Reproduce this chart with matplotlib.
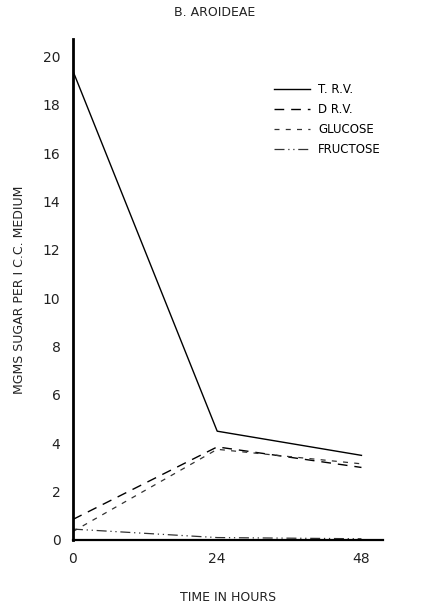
import matplotlib.pyplot as plt

# Sampling times (hours)
hours = [0, 24, 48]

# Sugar content (mgms per 1 c.c. medium)
trv = [19.4, 4.5, 3.5]
drv = [0.85, 3.85, 3.0]
glucose = [0.35, 3.75, 3.15]
fructose = [0.45, 0.1, 0.05]

fig = plt.figure(figsize=(4.29, 6.03), dpi=100)
ax = fig.add_axes([0.170, 0.1045, 0.723, 0.830])

ax.plot(hours, trv, color='black', lw=1.0, ls='-', label='T. R.V.')
ax.plot(hours, drv, color='black', lw=1.0, ls=(0, (7, 5)), label='D R.V.')
ax.plot(hours, glucose, color='#333333', lw=0.9, ls=(0, (4, 5)), label='GLUCOSE')
ax.plot(hours, fructose, color='#333333', lw=0.9, ls=(0, (8, 3, 1, 3, 1, 3)), label='FRUCTOSE')

ax.set_xlim(0, 51.6)
ax.set_ylim(0, 20.7)
ax.set_xticks(hours)
ax.set_yticks(range(0, 21, 2))
ax.tick_params(length=0, labelsize=10, colors='#222222', pad=9)

for side in ['top', 'right']:
    ax.spines[side].set_visible(False)
ax.spines['left'].set_linewidth(2.0)
ax.spines['bottom'].set_linewidth(1.6)

ax.set_xlabel('TIME IN HOURS', fontsize=9, color='#222222', labelpad=18)
ax.set_ylabel('MGMS SUGAR PER I C.C. MEDIUM', fontsize=9, color='#222222', labelpad=12)
fig.text(0.5, 0.98, 'B. AROIDEAE', ha='center', va='center', fontsize=9, color='#222222')

fig.legend(loc='upper left', bbox_to_anchor=(0.615, 0.88), frameon=False, fontsize=8.5,
           handlelength=3.0, handletextpad=0.7, labelspacing=0.6)

fig.savefig('out.png', dpi=100)
